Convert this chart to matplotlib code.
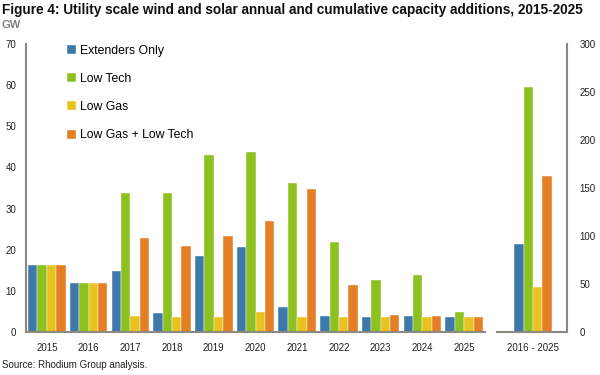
import matplotlib
matplotlib.use("Agg")
import matplotlib.pyplot as plt
import numpy as np

years = ["2015", "2016", "2017", "2018", "2019", "2020", "2021", "2022", "2023", "2024", "2025"]
series_names = ["Extenders Only", "Low Tech", "Low Gas", "Low Gas + Low Tech"]
extenders = [16.3, 11.8, 14.8, 4.7, 18.4, 20.7, 6.1, 3.9, 3.6, 3.9, 3.7]
low_tech = [16.3, 11.8, 33.9, 33.9, 42.9, 43.8, 36.2, 21.8, 12.6, 13.9, 4.9]
low_gas = [16.3, 11.8, 3.9, 3.6, 3.7, 4.9, 3.7, 3.7, 3.6, 3.6, 3.7]
low_gas_tech = [16.3, 11.8, 22.9, 21.0, 23.3, 27.0, 34.7, 11.5, 4.1, 4.0, 3.7]
cum_label = ["2016 - 2025"]
cumulative = [92, 255, 47, 163]

colors = ["#3D7AAB", "#8CC11F", "#E8C21F", "#E47F25"]
spine_col = "#8C8A80"
font = ["Liberation Sans", "DejaVu Sans"]
plt.rcParams["font.family"] = font

fig = plt.figure(figsize=(6, 3.75), dpi=100)
W, H = 600, 375
bottom = 1 - 332 / H
height = (332 - 44) / H
ax1 = fig.add_axes([26 / W, bottom, (485 - 26) / W, height])
ax2 = fig.add_axes([497 / W, bottom, (567 - 497) / W, height])

series = [extenders, low_tech, low_gas, low_gas_tech]
x = np.arange(len(years))
bw = 0.225
for i, (vals, name, c) in enumerate(zip(series, series_names, colors)):
    ax1.bar(x + (i - 1.5) * bw, vals, width=bw, color=c, label=name,
            edgecolor="white", linewidth=0.3)
ax1.set_xlim(-0.5, len(years) - 0.5)
ax1.set_ylim(0, 70)
ax1.set_yticks(range(0, 71, 10))
ax1.set_xticks(x)
ax1.set_xticklabels(years)

xc = np.arange(len(cum_label))
for i, (v, c) in enumerate(zip(cumulative, colors)):
    ax2.bar(xc + (i - 1.5) * bw, [v], width=bw, color=c, edgecolor="white", linewidth=0.3)
ax2.set_xlim(-0.857, 0.81)
ax2.set_ylim(0, 300)
ax2.set_yticks(range(0, 301, 50))
ax2.set_xticks(xc)
ax2.set_xticklabels(cum_label)
ax2.yaxis.tick_right()

for ax in (ax1, ax2):
    for s in ax.spines.values():
        s.set_visible(False)
    ax.spines["bottom"].set_visible(True)
    ax.spines["bottom"].set_color(spine_col)
    ax.spines["bottom"].set_linewidth(1.5)
    ax.tick_params(axis="both", length=0, labelsize=7, colors="#222222")
    ax.tick_params(axis="x", pad=8)
    ax.set_facecolor("none")
ax1.spines["left"].set_visible(True)
ax1.spines["left"].set_color(spine_col)
ax1.spines["left"].set_linewidth(1.5)
ax1.tick_params(axis="y", pad=7)
ax2.spines["right"].set_visible(True)
ax2.spines["right"].set_color(spine_col)
ax2.spines["right"].set_linewidth(1.5)
ax2.tick_params(axis="y", pad=9)

leg = ax1.legend(loc="upper left", bbox_to_anchor=(0.065, 1.035), frameon=False,
                 fontsize=8.8, handlelength=0.75, handleheight=0.75, handletextpad=0.35,
                 labelspacing=1.32)

fig.text(2 / W, 1 - 10 / H, "Figure 4: Utility scale wind and solar annual and cumulative capacity additions, 2015-2025",
         fontsize=9.8, fontweight="bold", va="center", ha="left", color="#111111")
fig.text(2 / W, 1 - 25 / H, "GW", fontsize=8, fontweight="bold", va="center", ha="left", color="#808080")
fig.text(2 / W, 1 - 365 / H, "Source: Rhodium Group analysis.", fontsize=7, va="center", ha="left", color="#222222")

fig.savefig("out.png", dpi=100)
